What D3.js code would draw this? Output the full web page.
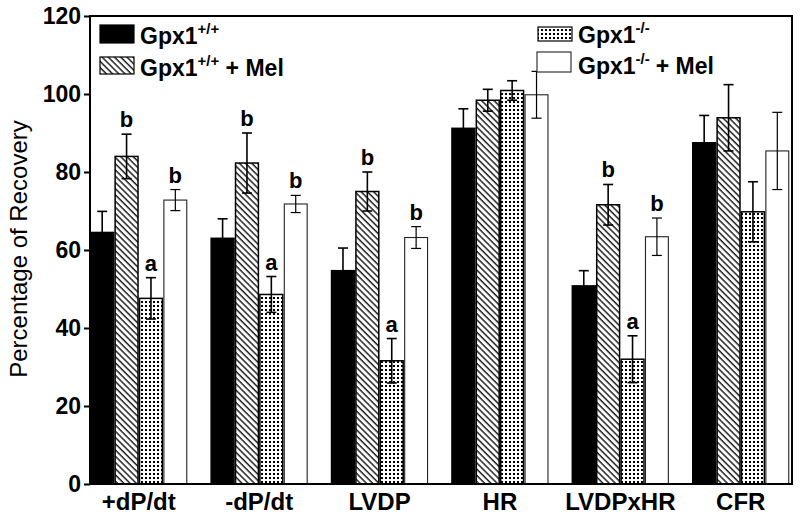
<!DOCTYPE html>
<html><head><meta charset="utf-8">
<script src="https://cdn.jsdelivr.net/npm/d3@7"></script>
<style>
html,body{margin:0;padding:0;background:#fff;}
svg{display:block;font-family:"Liberation Sans",Arial,sans-serif;}
</style></head><body>
<svg id="chart" width="800" height="520"></svg>
<script>
const categories = ["+dP/dt", "-dP/dt", "LVDP", "HR", "LVDPxHR", "CFR"];
const seriesNames = ["wt", "wtMel", "ko", "koMel"];
const wtMeans    = [64.5, 63.0, 54.7, 91.2, 50.8, 87.5];
const wtErr      = [5.4, 5.0, 5.8, 5.0, 3.9, 7.0];
const wtMelMeans = [84.0, 82.3, 75.0, 98.4, 71.6, 93.9];
const wtMelErr   = [5.7, 7.7, 5.0, 2.8, 5.2, 8.5];
const koMeans    = [47.6, 48.6, 31.6, 100.9, 32.0, 69.8];
const koErr      = [5.3, 4.6, 5.7, 2.5, 6.0, 7.7];
const koMelMeans = [72.8, 71.8, 63.2, 99.8, 63.4, 85.4];
const koMelErr   = [2.7, 2.2, 2.8, 6.0, 4.8, 9.9];
const wtMelLetters = ["b", "b", "b", "", "b", ""];
const koLetters    = ["a", "a", "a", "", "a", ""];
const koMelLetters = ["b", "b", "b", "", "b", ""];
const yTicks = [0, 20, 40, 60, 80, 100, 120];

const meansList = [wtMeans, wtMelMeans, koMeans, koMelMeans];
const errList = [wtErr, wtMelErr, koErr, koMelErr];
const letterList = [null, wtMelLetters, koLetters, koMelLetters];

const svg = d3.select("#chart");
const mLeft = 90, mRight = 792, mTop = 16, mBottom = 484;

const defs = svg.append("defs");
const hatch = defs.append("pattern").attr("id","hatch").attr("patternUnits","userSpaceOnUse")
  .attr("width",4.4).attr("height",10).attr("patternTransform","rotate(-45)");
hatch.append("rect").attr("width",4.4).attr("height",10).attr("fill","#fff");
hatch.append("line").attr("x1",1).attr("x2",1).attr("y1",0).attr("y2",10).attr("stroke","#000").attr("stroke-width",1.3);
const dots = defs.append("pattern").attr("id","dots").attr("patternUnits","userSpaceOnUse")
  .attr("width",4).attr("height",4);
dots.append("rect").attr("width",4).attr("height",4).attr("fill","#fff");
dots.append("rect").attr("x",1).attr("y",1).attr("width",2).attr("height",2).attr("fill","#000");

const fills = ["#000", "url(#hatch)", "url(#dots)", "#fff"];

const y = d3.scaleLinear().domain([0,120]).range([mBottom, mTop]);
const x0 = d3.scaleBand().domain(categories).range([mLeft, 789.5]).paddingInner(0.19).paddingOuter(0).align(0);
const x1 = d3.scaleBand().domain(seriesNames).range([0, x0.bandwidth()]).padding(0);

const data = [];
categories.forEach((c, i) => {
  seriesNames.forEach((s, j) => {
    data.push({cat:c, s:s, j:j, v:meansList[j][i], e:errList[j][i], l: letterList[j] ? letterList[j][i] : ""});
  });
});

const bars = svg.append("g");
bars.selectAll("rect").data(data).join("rect")
  .attr("x", d => x0(d.cat) + x1(d.s) + 0.75)
  .attr("width", x1.bandwidth() - 1.5)
  .attr("y", d => y(d.v))
  .attr("height", d => y(0) - y(d.v))
  .attr("fill", d => fills[d.j])
  .attr("stroke", d => d.j === 3 ? "#222" : "#000")
  .attr("stroke-width", d => d.j === 3 ? 1.1 : 1.5);

const ebg = svg.append("g");
data.forEach(d => {
  const cx = x0(d.cat) + x1(d.s) + x1.bandwidth()/2;
  const sw = d.j === 3 ? 1.2 : 1.6;
  const g = ebg.append("g").attr("stroke","#000").attr("stroke-width",sw);
  g.append("line").attr("x1",cx).attr("x2",cx).attr("y1",y(d.v + d.e)).attr("y2",y(d.v - d.e));
  g.append("line").attr("x1",cx-5).attr("x2",cx+5).attr("y1",y(d.v + d.e)).attr("y2",y(d.v + d.e));
  g.append("line").attr("x1",cx-5).attr("x2",cx+5).attr("y1",y(d.v - d.e)).attr("y2",y(d.v - d.e));
  if (d.l) {
    svg.append("text").attr("x",cx).attr("y",y(d.v + d.e) - 7)
      .attr("text-anchor","middle").style("font-size","22px").style("font-weight","bold").text(d.l);
  }
});

// axes
const yAxis = d3.axisLeft(y).tickValues(yTicks).tickSize(6).tickPadding(3).tickFormat(d3.format("d"));
const ya = svg.append("g").attr("transform",`translate(${mLeft},0)`).call(yAxis);
ya.select(".domain").remove();
ya.selectAll(".tick line").attr("stroke","#000").attr("stroke-width",2);
ya.selectAll(".tick text").style("font-size","23px").style("font-weight","bold").attr("fill","#000")
  .style("font-family","'Liberation Sans', Arial, sans-serif");

const xAxis = d3.axisBottom(x0).tickSize(0).tickPadding(9);
const xa = svg.append("g").attr("transform",`translate(0,${mBottom})`).call(xAxis);
xa.select(".domain").remove();
xa.selectAll(".tick text").style("font-size","24px").style("font-weight","bold").attr("fill","#000")
  .style("font-family","'Liberation Sans', Arial, sans-serif");

// frame
svg.append("path").attr("d",`M${mLeft},${mTop} L${mRight},${mTop} L${mRight},${mBottom} L${mLeft},${mBottom} Z`)
  .attr("fill","none").attr("stroke","#000").attr("stroke-width",2);

// y title
svg.append("text").attr("transform","translate(27,249) rotate(-90)").attr("text-anchor","middle")
  .style("font-size","24px").attr("fill","#000").text("Percentage of Recovery");

// legend
const legend = [
  {x:100, y:25, h:18, fill:fills[0], sup:"+/+", rest:"", tx:140, ty:44},
  {x:100, y:57, h:17, fill:fills[1], sup:"+/+", rest:" + Mel", tx:140, ty:76},
  {x:538, y:27, h:14, fill:fills[2], sup:"-/-", rest:"", tx:578, ty:43},
  {x:537, y:52, h:20, fill:fills[3], sup:"-/-", rest:"+ Mel", tx:578, ty:74}
];
legend.forEach((L, i) => {
  svg.append("rect").attr("x",L.x).attr("y",L.y).attr("width",34).attr("height",L.h)
    .attr("fill",L.fill).attr("stroke", i===3 ? "#222" : "#000").attr("stroke-width", i===3 ? 1.1 : 1.2);
  const t = svg.append("text").attr("x",L.tx).attr("y",L.ty).style("font-size","23px").style("font-weight","bold");
  t.append("tspan").text("Gpx1");
  t.append("tspan").style("font-size","15px").attr("dy",-10).text(L.sup);
  if (L.rest) t.append("tspan").style("font-size","23px").attr("dy",10).attr("dx", i===3?6:0).text(L.rest);
});
</script>
</body></html>
